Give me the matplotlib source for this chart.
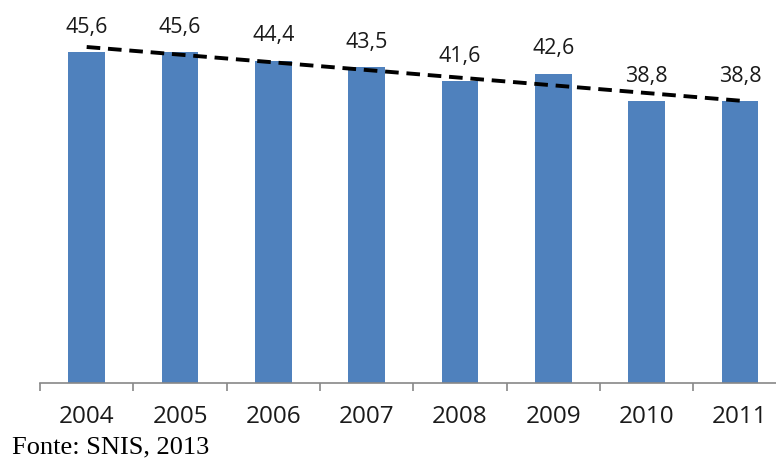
import numpy as np
import matplotlib.pyplot as plt

# Dados
anos = ['2004', '2005', '2006', '2007', '2008', '2009', '2010', '2011']
valores = [45.6, 45.6, 44.4, 43.5, 41.6, 42.6, 38.8, 38.8]
rotulos = ['45,6', '45,6', '44,4', '43,5', '41,6', '42,6', '38,8', '38,8']
fonte = 'Fonte: SNIS, 2013'

fig = plt.figure(figsize=(7.76, 4.61), dpi=100)
ax = fig.add_axes([40 / 776, 78.3 / 461, 746.7 / 776, 382.7 / 461])

x = np.arange(len(anos))
ax.bar(x, valores, width=0.39, color='#4F81BD', zorder=2)

# Linha de tendência linear
coef = np.polyfit(x, valores, 1)
ax.plot(x, np.polyval(coef, x), color='black', linestyle=(0, (3.5, 2)),
        linewidth=2.8, zorder=3)

# Rótulos de valor
for xi, v, r in zip(x, valores, rotulos):
    ax.annotate(r, (xi, v), xytext=(0, 25), textcoords='offset pixels',
                ha='center', va='center', fontsize=15.5, family='Open Sans',
                color='#1a1a1a')

ax.set_xlim(-0.5, len(anos) - 0.5)
ax.set_ylim(0, 52.8)

for s in ['top', 'right', 'left']:
    ax.spines[s].set_visible(False)
ax.spines['bottom'].set_color('#888888')
ax.spines['bottom'].set_linewidth(1.2)
ax.set_yticks([])

ax.set_xticks(np.arange(-0.5, len(anos), 1.0))
ax.set_xticklabels([])
ax.set_xticks(x, minor=True)
ax.set_xticklabels(anos, minor=True, fontsize=17.5, family='Open Sans',
                   color='#1a1a1a')
ax.tick_params(axis='x', which='major', length=6, width=1.2, color='#888888')
ax.tick_params(axis='x', which='minor', length=0, pad=16)

fig.text(12 / 776, 3 / 461, fonte, family='Liberation Serif', fontsize=19,
         ha='left', va='bottom', color='black')

plt.savefig('out.png', dpi=100)
